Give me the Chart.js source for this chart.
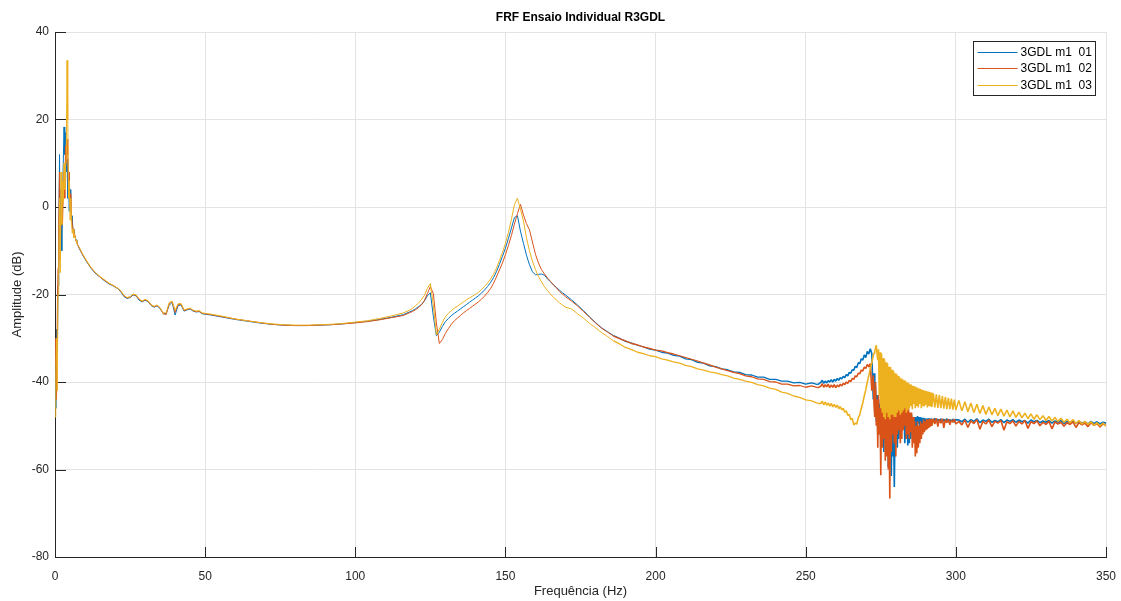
<!DOCTYPE html>
<html>
<head>
<meta charset="utf-8">
<title>FRF Ensaio Individual R3GDL</title>
<script src="https://cdn.jsdelivr.net/npm/chart.js"></script>
<style>
  body { margin: 0; background: #fff; }
  canvas { display: block; }
</style>
</head>
<body>
<canvas id="frf" width="1121" height="601"></canvas>
<script>
// frequency axis (Hz), finer where the curves move fast
const freq = [
  0,0.25,0.5,0.75,1,1.25,1.5,1.75,2,2.25,2.5,2.75,3,3.25,3.5,3.75,4,4.25,4.5,4.75,5,5.25,5.5,5.75,6,6.25,6.5,6.75,7,7.25,7.5,
  8,9,10,11,12,13,14,15,16,17,18,19,20,21,22,23,24,25,26,27,28,29,30,31,32,33,34,35,36,37,38,39,40,41,42,43,44,45,46,47,48,49,50,
  52,56,60,64,68,72,76,80,84,88,92,96,100,104,108,112,116,
  118,119,120,121,122,123,124,125,126,127,128,129,130,131,132,133,134,
  135,136,137,138,139,140,141,142,143,144,145,146,147,148,149,150,151,152,153,154,155,156,157,158,159,160,161,162,163,164,165,166,167,168,169,170,
  172,174,176,178,180,182,184,186,188,190,192,194,196,198,200,202,204,206,208,210,212,214,216,218,220,222,224,226,228,230,232,234,236,238,240,242,244,246,248,250,252,254,
  255,255.5,256,256.5,257,257.5,258,258.5,259,259.5,260,260.5,261,261.5,262,262.5,263,263.5,264,264.5,
  265,265.5,266,266.5,267,267.5,268,268.5,269,269.5,270,270.5,271,271.5,272,
  272.5,272.75,
  273,273.25,273.5,273.75,274,274.25,274.5,274.75,275,275.25,275.5,275.75,276,276.25,276.5,276.75,
  277,277.25,277.5,277.75,278,278.25,278.5,278.75,279,279.25,279.5,279.75,280,280.25,280.5,280.75,
  281,281.25,281.5,281.75,282,282.25,282.5,282.75,283,283.25,283.5,283.75,284,284.25,284.5,284.75,
  285,285.25,285.5,285.75,286,286.25,286.5,286.75,287,287.25,287.5,287.75,288,288.25,288.5,288.75,
  289,289.25,289.5,289.75,290,290.25,290.5,290.75,291,291.25,291.5,291.75,292,
  292.5,293,293.5,294,294.5,295,295.5,296,296.5,297,297.5,298,298.5,299,299.5,300,
  301,302,303,304,305,306,307,308,309,310,311,312,313,314,315,316,317,318,319,320,
  321,322,323,324,325,326,327,328,329,330,331,332,333,334,335,336,337,338,339,340,
  341,342,343,344,345,346,347,348,349,350
];

// amplitude (dB)
const m1_01 = [
  -40,-46,-28,-36,-18,-8,12,-6,4,-10,3,10,18.3,12,17,8,11,2,6,-1,4,0,-3,-2,-6,-5,-6.5,-7,-7.5,-8,-8.5,
  -9.4,-10.7,-11.9,-13.0,-14.0,-14.8,-15.5,-16.0,-16.6,-17.1,-17.6,-17.9,-18.3,-18.7,-19.5,-20.5,-20.9,-20.7,-20.1,-20.3,-21.3,-21.7,-21.3,-21.6,-22.5,-22.9,-22.6,-23.2,-24.3,-24.4,-22.5,-21.8,-24.7,-22.5,-22.4,-23.8,-23.5,-23.3,-23.8,-24.0,-23.9,-24.4,-24.5,
  -24.7,-25.2,-25.7,-26.1,-26.5,-26.8,-27.0,-27.1,-27.1,-27.0,-26.9,-26.7,-26.4,-26.1,-25.7,-25.2,-24.6,
  -24.0,-23.7,-23.3,-22.8,-22.3,-21.5,-20.3,-19.6,-25.0,-29.4,-28.6,-27.3,-26.2,-25.5,-24.8,-24.3,-23.8,
  -23.3,-22.8,-22.3,-21.8,-21.3,-20.8,-20.3,-19.7,-19.0,-18.2,-17.3,-16.2,-14.8,-13.1,-11.3,-9.4,-7.2,-4.8,-2.4,-2.0,-5.5,-8.3,-11.0,-13.2,-14.8,-15.5,-15.4,-15.3,-15.6,-16.4,-17.1,-17.8,-18.4,-19.0,-19.6,-20.1,
  -21.2,-22.4,-23.7,-25.1,-26.4,-27.6,-28.5,-29.4,-30.0,-30.7,-31.1,-31.6,-32.0,-32.5,-32.7,-33.2,-33.4,-33.9,-34.1,-34.7,-34.9,-35.5,-35.7,-36.3,-36.5,-37.0,-37.2,-37.7,-37.8,-38.3,-38.4,-38.9,-38.9,-39.4,-39.4,-39.8,-39.8,-40.2,-40.1,-40.5,-40.2,-40.6,
  -40.1,-39.6,-40.3,-39.8,-40.2,-39.7,-40.0,-39.5,-40.0,-39.4,-39.8,-39.2,-39.6,-39.0,-39.3,-38.7,-39.0,-38.3,-38.6,-37.8,
  -38.0,-37.2,-37.3,-36.4,-36.7,-35.6,-35.8,-34.7,-35.0,-33.8,-34.4,-33.0,-33.6,-32.4,-33.5,
  -44,-38,
  -47,-41,-49,-43, -52,-44,-50,-45, -53,-45,-51,-44.5, -56,-47,-53,-46,
  -50,-45,-59.5,-48, -55,-47,-61.5,-47, -57,-49,-64,-50, -52,-48,-55,-47,
  -53,-47,-52,-46, -51,-46.5,-50,-46, -54,-47,-53,-47, -54.5,-48,-54,-47.5,
  -53,-47.5,-52,-48, -53,-48,-52.5,-48, -50.5,-47.8,-49.5,-48, -50.5,-48,-50,-48.2,
  -49.8,-48.2,-49.5,-48.3, -49.5,-48.4,-49.2,-48.3, -49.4,-48.3,-49.3,-48.4, -48.4,
  -49.0,-48.3,-49.1,-48.5,-49.0,-48.4,-49.2,-48.5,-49.0,-48.4,-49.1,-48.6,-49.0,-48.5,-49.2,-48.6,
  -48.7,-49.1,-48.5,-49.2,-48.6,-49.0,-48.4,-49.3,-48.7,-49.0,-48.5,-49.2,-48.8,-49.1,-48.6,-49.3,-48.7,-49.0,-48.6,-49.2,
  -48.7,-49.1,-48.8,-49.4,-48.7,-49.1,-48.8,-49.3,-48.9,-49.2,-48.8,-49.4,-48.9,-49.2,-48.8,-49.5,-49.0,-49.3,-48.9,-49.5,
  -49.0,-49.4,-49.1,-49.6,-49.0,-49.5,-49.1,-49.6,-49.2,-49.4
];

const m1_02 = [
  -36,-30,-44,-25,-14,-4,8,-12,-2,6,-4,3,8,2,14,10,15.5,12,5,8,0,3,-2,-4,-5,-6.5,-6,-7,-7.8,-8,-8.6,
  -9.2,-10.6,-11.8,-12.9,-13.9,-14.7,-15.4,-16.0,-16.5,-17.0,-17.5,-17.8,-18.2,-18.6,-19.3,-20.3,-20.8,-20.6,-20.0,-20.2,-21.1,-21.6,-21.2,-21.5,-22.4,-22.8,-22.5,-23.1,-24.4,-24.6,-22.2,-21.6,-24.1,-22.3,-22.2,-23.7,-23.4,-23.2,-23.7,-23.9,-23.8,-24.3,-24.4,
  -24.6,-25.1,-25.6,-26.0,-26.4,-26.8,-27.0,-27.1,-27.1,-27.0,-26.9,-26.7,-26.5,-26.2,-25.8,-25.3,-24.8,
  -24.2,-23.9,-23.5,-23.0,-22.4,-21.4,-19.8,-18.2,-19.8,-26.5,-31.2,-30.3,-28.9,-27.8,-26.8,-26.0,-25.4,
  -24.8,-24.2,-23.7,-23.2,-22.7,-22.2,-21.7,-21.1,-20.4,-19.6,-18.7,-17.5,-16.0,-14.4,-12.8,-10.9,-8.8,-6.5,-3.9,-1.5,0.6,-1.8,-3.8,-5.2,-8.0,-10.8,-12.8,-14.3,-15.3,-16.2,-17.0,-17.8,-18.5,-19.3,-19.9,-20.5,
  -21.5,-22.6,-23.9,-25.2,-26.5,-27.7,-28.6,-29.5,-30.1,-30.6,-31.2,-31.5,-32.0,-32.3,-32.7,-32.9,-33.3,-33.6,-34.0,-34.4,-34.8,-35.2,-35.7,-36.1,-36.6,-37.0,-37.4,-37.8,-38.1,-38.6,-38.8,-39.3,-39.4,-39.9,-40.0,-40.5,-40.5,-40.9,-40.8,-41.2,-40.9,-41.3,
  -41.0,-40.4,-41.2,-40.6,-41.1,-40.5,-41.3,-40.7,-41.2,-40.6,-41.3,-40.7,-41.1,-40.5,-40.9,-40.3,-40.6,-40.0,-40.3,-39.6,
  -39.9,-39.2,-39.4,-38.6,-38.8,-38.0,-38.1,-37.3,-37.5,-36.6,-36.9,-36.0,-36.5,-35.8,-42,
  -38.5,-45,
  -48,-40,-50,-44, -55,-43,-52,-46, -61.3,-44,-55,-47, -53,-44,-58,-45,
  -57,-46,-60,-48, -66.6,-46,-56,-47, -52,-45,-54,-45.5, -57,-47,-52,-46,
  -51,-45,-54,-45, -53,-46,-51,-46, -50,-45,-53,-45.5, -52,-46,-53,-47,
  -51.5,-47,-55,-48, -54,-49,-57,-50, -56.3,-49,-55,-50, -54,-49,-53,-49.5,
  -52,-48.5,-51.5,-49, -51,-48.5,-50.8,-48.6, -50.5,-48.4,-50.2,-48.5, -50,
  -48.4,-49.6,-48.3,-50.2,-48.5,-49.4,-48.4,-50.5,-48.6,-49.3,-48.5,-49.8,-48.7,-49.2,-48.5,-49.6,
  -49.0,-49.8,-48.7,-50.4,-48.9,-49.5,-48.6,-50.8,-49.0,-49.6,-48.7,-50.2,-49.0,-49.4,-48.8,-51.0,-49.1,-49.5,-48.9,-50.1,
  -49.0,-49.6,-48.8,-50.6,-49.1,-49.5,-48.9,-50.0,-49.2,-49.7,-49.0,-50.7,-49.1,-49.6,-49.2,-50.1,-49.3,-49.7,-49.1,-50.4,
  -49.3,-49.8,-49.4,-50.2,-49.3,-49.9,-49.5,-50.3,-49.6,-49.9
];

const m1_03 = [
  -48,-38,-30,-42,-20,-12,2,-15,8,-4,6,1,10,4,9,11,33.5,20,2,6,-3,2,-4,-6,-5,-7,-6.2,-7,-7.6,-8.2,-8.7,
  -9.1,-10.5,-11.7,-12.8,-13.8,-14.6,-15.3,-15.9,-16.4,-16.9,-17.4,-17.8,-18.2,-18.6,-19.3,-20.2,-20.7,-20.5,-19.9,-20.1,-21.0,-21.5,-21.1,-21.4,-22.3,-22.7,-22.4,-23.0,-24.2,-24.2,-21.9,-21.5,-23.6,-22.1,-22.1,-23.5,-23.3,-23.1,-23.6,-23.8,-23.7,-24.2,-24.3,
  -24.5,-25.0,-25.6,-26.0,-26.4,-26.7,-26.9,-27.0,-27.0,-26.9,-26.8,-26.6,-26.3,-26.0,-25.5,-24.9,-24.2,
  -23.6,-23.2,-22.6,-22.0,-21.2,-20.2,-18.6,-17.5,-22.5,-29.2,-27.9,-26.4,-25.1,-24.3,-23.7,-23.1,-22.7,
  -22.2,-21.7,-21.2,-20.8,-20.4,-20.0,-19.5,-18.9,-18.2,-17.4,-16.5,-15.4,-14.0,-12.2,-10.4,-8.3,-5.8,-2.8,0.5,2.0,-0.5,-3.2,-7.0,-10.0,-12.4,-14.3,-15.9,-17.1,-18.2,-19.1,-19.9,-20.6,-21.3,-21.9,-22.4,-22.9,
  -23.3,-24.4,-25.4,-26.6,-27.6,-28.7,-29.6,-30.6,-31.3,-32.1,-32.6,-33.2,-33.5,-34.0,-34.2,-34.7,-35.0,-35.4,-35.7,-36.2,-36.5,-37.0,-37.3,-37.7,-37.9,-38.3,-38.6,-39.1,-39.4,-39.8,-40.1,-40.6,-40.9,-41.4,-41.7,-42.3,-42.6,-43.2,-43.5,-44.1,-44.3,-44.9,
  -44.9,-44.4,-45.2,-44.6,-45.3,-44.8,-45.5,-44.9,-45.7,-45.1,-45.8,-45.3,-46.1,-45.6,-46.4,-46.0,-46.9,-46.6,-47.6,-47.4,
  -48.6,-48.3,-49.8,-49.4,-49.6,-48.2,-47.5,-46.0,-44.8,-43.2,-41.8,-40.0,-38.6,-37.0,-35.6,
  -34.0,-33.4,
  -33.0,-32.2,-31.6,-33.5, -35,-32.5,-43,-33.2, -46,-33.5,-47,-34.5, -48,-34.8,-48.5,-35.5,
  -47,-35.8,-48,-36.5, -48.5,-36.6,-47.5,-37.2, -47.5,-37.5,-48,-38, -48,-38.2,-47,-38.6,
  -46.5,-38.9,-47.5,-39.2, -47,-39.4,-46.5,-39.6, -46,-39.8,-47,-40.1, -46.5,-40.3,-46,-40.5,
  -45.5,-40.7,-46.2,-40.9, -45,-41.0,-46,-41.2, -45.5,-41.3,-45.8,-41.5, -45,-41.6,-46,-41.8,
  -45.5,-41.9,-45.6,-42.0, -45.2,-42.1,-45.8,-42.2, -45.5,-42.3,-45.6,-42.4, -45.7,
  -42.6,-45.8,-42.8,-45.9,-43.0,-46.0,-43.2,-46.1,-43.4,-46.2,-43.6,-46.2,-43.8,-46.3,-44.0,-46.4,
  -44.2,-46.6,-44.5,-46.8,-44.8,-47.0,-45.1,-47.2,-45.4,-47.4,-45.7,-47.5,-46.0,-47.7,-46.2,-47.8,-46.4,-48.0,-46.6,-48.1,
  -46.9,-48.2,-47.1,-48.4,-47.3,-48.5,-47.5,-48.6,-47.7,-48.8,-47.9,-48.9,-48.1,-49.0,-48.3,-49.2,-48.5,-49.3,-48.6,-49.5,
  -48.8,-49.6,-49.0,-49.7,-49.1,-49.9,-49.3,-50.0,-49.4,-50.1
];

const seriesLabels = ['3GDL m1  01', '3GDL m1  02', '3GDL m1  03'];
const seriesColors = ['#0072BD', '#D95319', '#EDB120'];
const xTicks = [0, 50, 100, 150, 200, 250, 300, 350];
const yTicks = [-80, -60, -40, -20, 0, 20, 40];

const fontFamily = "'Liberation Sans', Arial, Helvetica, sans-serif";

function toPoints(vals) {
  return freq.map((f, i) => ({ x: f, y: vals[i] }));
}

// noisy part of the measurement looks like a thicker band
function segWidth(c) {
  const f = c.p0.parsed.x;
  if (f >= 254) return 1.6;
  if (f >= 185) return 1.3;
  return 1;
}

// matlab style ticks pointing into the axes
const innerTicks = {
  id: 'innerTicks',
  beforeDatasetsDraw(chart) {
    const { ctx, chartArea, scales } = chart;
    ctx.save();
    ctx.strokeStyle = '#262626';
    ctx.lineWidth = 1;
    ctx.beginPath();
    xTicks.forEach(v => {
      const px = Math.round(scales.x.getPixelForValue(v)) + 0.5;
      ctx.moveTo(px, chartArea.bottom);
      ctx.lineTo(px, chartArea.bottom - 10);
    });
    yTicks.forEach(v => {
      const py = Math.round(scales.y.getPixelForValue(v)) + 0.5;
      ctx.moveTo(chartArea.left, py);
      ctx.lineTo(chartArea.left + 11, py);
    });
    ctx.stroke();
    ctx.restore();
  }
};

// boxed legend in the upper right corner
const boxLegend = {
  id: 'boxLegend',
  afterDraw(chart) {
    const { ctx, chartArea } = chart;
    const w = 122, h = 54;
    const x = Math.round(chartArea.right - 11 - w) + 0.5;
    const y = Math.round(chartArea.top + 9) + 0.5;
    ctx.save();
    ctx.fillStyle = '#fff';
    ctx.fillRect(x, y, w, h);
    ctx.strokeStyle = '#262626';
    ctx.lineWidth = 1;
    ctx.strokeRect(x, y, w, h);
    ctx.font = '12px ' + fontFamily;
    ctx.textBaseline = 'middle';
    chart.data.datasets.forEach((ds, i) => {
      const ly = Math.round(y + 10 + i * 16.7) + 0.5;
      ctx.strokeStyle = ds.borderColor;
      ctx.beginPath();
      ctx.moveTo(x + 4, ly);
      ctx.lineTo(x + 44, ly);
      ctx.stroke();
      ctx.fillStyle = '#000';
      ctx.fillText(ds.label, x + 47, ly);
    });
    ctx.restore();
  }
};

const ctx = document.getElementById('frf').getContext('2d');
const frfChart = new Chart(ctx, {
  type: 'line',
  data: {
    datasets: [m1_01, m1_02, m1_03].map((vals, i) => ({
      label: seriesLabels[i],
      data: toPoints(vals),
      borderColor: seriesColors[i],
      backgroundColor: seriesColors[i],
      borderWidth: 1,
      borderJoinStyle: 'bevel',
      segment: { borderWidth: segWidth },
      pointRadius: 0,
      tension: 0,
      fill: false,
      order: 3 - i
    }))
  },
  options: {
    responsive: false,
    animation: false,
    events: [],
    layout: { padding: { left: 0, right: 15, top: 0, bottom: 0 } },
    plugins: {
      legend: { display: false },
      tooltip: { enabled: false },
      title: {
        display: true,
        fullSize: false,
        text: 'FRF Ensaio Individual R3GDL',
        color: '#000',
        font: { family: fontFamily, size: 12, weight: 'bold' },
        padding: { top: 10, bottom: 7.6 }
      }
    },
    scales: {
      x: {
        type: 'linear',
        min: 0,
        max: 350,
        afterFit: s => { s.height = 44; s.paddingLeft = 0; s.paddingRight = 0; },
        afterBuildTicks: s => { s.ticks = xTicks.map(v => ({ value: v })); },
        ticks: { color: '#262626', padding: 12, maxRotation: 0, font: { family: fontFamily, size: 12 } },
        grid: { color: '#e3e3e3', drawTicks: false },
        border: { display: true, color: '#262626', width: 1 },
        title: {
          display: true,
          text: 'Frequência (Hz)',
          color: '#262626',
          font: { family: fontFamily, size: 13 },
          padding: { top: 0, bottom: 2 }
        }
      },
      y: {
        min: -80,
        max: 40,
        afterFit: s => { s.width = 55; s.paddingTop = 0; s.paddingBottom = 0; },
        afterBuildTicks: s => { s.ticks = yTicks.map(v => ({ value: v })); },
        ticks: { color: '#262626', padding: 6, font: { family: fontFamily, size: 12 } },
        grid: { color: '#e3e3e3', drawTicks: false },
        border: { display: true, color: '#262626', width: 1 },
        title: {
          display: true,
          text: 'Amplitude (dB)',
          color: '#262626',
          font: { family: fontFamily, size: 13 },
          padding: { top: 10, bottom: 0 }
        }
      }
    }
  },
  plugins: [innerTicks, boxLegend]
});
</script>
</body>
</html>
